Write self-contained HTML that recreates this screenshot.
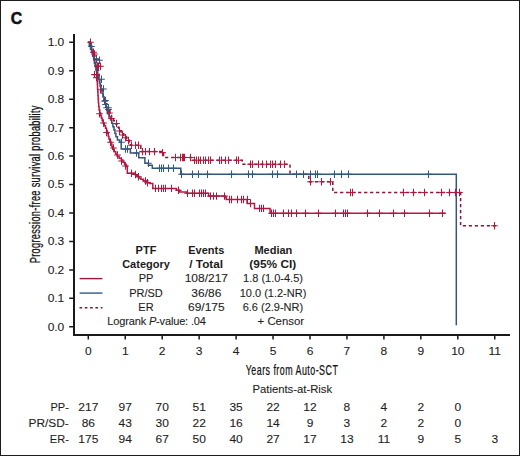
<!DOCTYPE html>
<html><head><meta charset="utf-8"><style>
html,body{margin:0;padding:0;background:#fff;}
.r{fill:#1e1e1e;stroke:#1e1e1e;stroke-width:0.1px;}
.b{fill:#1c1c1c;}
body{width:520px;height:456px;overflow:hidden;font-family:"Liberation Sans", sans-serif;}
svg{display:block;}
</style></head><body>
<svg width="520" height="456" viewBox="0 0 520 456">
<rect x="0" y="0" width="520" height="456" fill="#fff"/>
<rect x="0.5" y="0.5" width="519" height="455" fill="none" stroke="#1c1c1c" stroke-width="1"/>
<text x="10.7" y="24.3" font-family='"Liberation Sans", sans-serif' font-weight="bold" font-size="15.8" fill="#111" stroke="#111" stroke-width="0.5">C</text>
<path d="M74 34V336M73 335H510" stroke="#1a1a1a" stroke-width="2" fill="none"/>
<path d="M69.2 326.80H73M69.2 298.35H73M69.2 269.90H73M69.2 241.45H73M69.2 213.00H73M69.2 184.55H73M69.2 156.10H73M69.2 127.65H73M69.2 99.20H73M69.2 70.75H73M69.2 42.30H73M88.30 336V339.5M125.25 336V339.5M162.20 336V339.5M199.15 336V339.5M236.10 336V339.5M273.05 336V339.5M310.00 336V339.5M346.95 336V339.5M383.90 336V339.5M420.85 336V339.5M457.80 336V339.5M494.75 336V339.5" stroke="#1a1a1a" stroke-width="1.5" fill="none"/>
<text transform="translate(64.3,330.70) scale(1.09,1)" text-anchor="end" font-family='"Liberation Sans", sans-serif' font-size="11" class="r">0.0</text>
<text transform="translate(64.3,302.25) scale(1.09,1)" text-anchor="end" font-family='"Liberation Sans", sans-serif' font-size="11" class="r">0.1</text>
<text transform="translate(64.3,273.80) scale(1.09,1)" text-anchor="end" font-family='"Liberation Sans", sans-serif' font-size="11" class="r">0.2</text>
<text transform="translate(64.3,245.35) scale(1.09,1)" text-anchor="end" font-family='"Liberation Sans", sans-serif' font-size="11" class="r">0.3</text>
<text transform="translate(64.3,216.90) scale(1.09,1)" text-anchor="end" font-family='"Liberation Sans", sans-serif' font-size="11" class="r">0.4</text>
<text transform="translate(64.3,188.45) scale(1.09,1)" text-anchor="end" font-family='"Liberation Sans", sans-serif' font-size="11" class="r">0.5</text>
<text transform="translate(64.3,160.00) scale(1.09,1)" text-anchor="end" font-family='"Liberation Sans", sans-serif' font-size="11" class="r">0.6</text>
<text transform="translate(64.3,131.55) scale(1.09,1)" text-anchor="end" font-family='"Liberation Sans", sans-serif' font-size="11" class="r">0.7</text>
<text transform="translate(64.3,103.10) scale(1.09,1)" text-anchor="end" font-family='"Liberation Sans", sans-serif' font-size="11" class="r">0.8</text>
<text transform="translate(64.3,74.65) scale(1.09,1)" text-anchor="end" font-family='"Liberation Sans", sans-serif' font-size="11" class="r">0.9</text>
<text transform="translate(64.3,46.20) scale(1.09,1)" text-anchor="end" font-family='"Liberation Sans", sans-serif' font-size="11" class="r">1.0</text>
<text transform="translate(88.30,355) scale(1.09,1)" text-anchor="middle" font-family='"Liberation Sans", sans-serif' font-size="11" class="r">0</text>
<text transform="translate(125.25,355) scale(1.09,1)" text-anchor="middle" font-family='"Liberation Sans", sans-serif' font-size="11" class="r">1</text>
<text transform="translate(162.20,355) scale(1.09,1)" text-anchor="middle" font-family='"Liberation Sans", sans-serif' font-size="11" class="r">2</text>
<text transform="translate(199.15,355) scale(1.09,1)" text-anchor="middle" font-family='"Liberation Sans", sans-serif' font-size="11" class="r">3</text>
<text transform="translate(236.10,355) scale(1.09,1)" text-anchor="middle" font-family='"Liberation Sans", sans-serif' font-size="11" class="r">4</text>
<text transform="translate(273.05,355) scale(1.09,1)" text-anchor="middle" font-family='"Liberation Sans", sans-serif' font-size="11" class="r">5</text>
<text transform="translate(310.00,355) scale(1.09,1)" text-anchor="middle" font-family='"Liberation Sans", sans-serif' font-size="11" class="r">6</text>
<text transform="translate(346.95,355) scale(1.09,1)" text-anchor="middle" font-family='"Liberation Sans", sans-serif' font-size="11" class="r">7</text>
<text transform="translate(383.90,355) scale(1.09,1)" text-anchor="middle" font-family='"Liberation Sans", sans-serif' font-size="11" class="r">8</text>
<text transform="translate(420.85,355) scale(1.09,1)" text-anchor="middle" font-family='"Liberation Sans", sans-serif' font-size="11" class="r">9</text>
<text transform="translate(457.80,355) scale(1.09,1)" text-anchor="middle" font-family='"Liberation Sans", sans-serif' font-size="11" class="r">10</text>
<text transform="translate(494.75,355) scale(1.09,1)" text-anchor="middle" font-family='"Liberation Sans", sans-serif' font-size="11" class="r">11</text>
<text transform="translate(292,374.8) scale(0.634,1)" text-anchor="middle" font-family='"Liberation Sans", sans-serif' font-size="14" letter-spacing="0.75" fill="#111" stroke="#111" stroke-width="0.25">Years from Auto-SCT</text>
<text transform="translate(39.5,184.3) rotate(-90) scale(0.665,1)" text-anchor="middle" font-family='"Liberation Sans", sans-serif' font-size="13.8" letter-spacing="0.5" fill="#111" stroke="#111" stroke-width="0.25">Progression-free survival probability</text>
<text x="292.3" y="392.7" text-anchor="middle" font-family='"Liberation Sans", sans-serif' font-size="11.3" class="r">Patients-at-Risk</text>
<text transform="translate(68.8,411.0) scale(1.0,1)" text-anchor="end" font-family='"Liberation Sans", sans-serif' font-size="11" class="r">PP-</text>
<text transform="translate(88.30,411.0) scale(1.09,1)" text-anchor="middle" font-family='"Liberation Sans", sans-serif' font-size="11" class="r">217</text>
<text transform="translate(125.25,411.0) scale(1.09,1)" text-anchor="middle" font-family='"Liberation Sans", sans-serif' font-size="11" class="r">97</text>
<text transform="translate(162.20,411.0) scale(1.09,1)" text-anchor="middle" font-family='"Liberation Sans", sans-serif' font-size="11" class="r">70</text>
<text transform="translate(199.15,411.0) scale(1.09,1)" text-anchor="middle" font-family='"Liberation Sans", sans-serif' font-size="11" class="r">51</text>
<text transform="translate(236.10,411.0) scale(1.09,1)" text-anchor="middle" font-family='"Liberation Sans", sans-serif' font-size="11" class="r">35</text>
<text transform="translate(273.05,411.0) scale(1.09,1)" text-anchor="middle" font-family='"Liberation Sans", sans-serif' font-size="11" class="r">22</text>
<text transform="translate(310.00,411.0) scale(1.09,1)" text-anchor="middle" font-family='"Liberation Sans", sans-serif' font-size="11" class="r">12</text>
<text transform="translate(346.95,411.0) scale(1.09,1)" text-anchor="middle" font-family='"Liberation Sans", sans-serif' font-size="11" class="r">8</text>
<text transform="translate(383.90,411.0) scale(1.09,1)" text-anchor="middle" font-family='"Liberation Sans", sans-serif' font-size="11" class="r">4</text>
<text transform="translate(420.85,411.0) scale(1.09,1)" text-anchor="middle" font-family='"Liberation Sans", sans-serif' font-size="11" class="r">2</text>
<text transform="translate(457.80,411.0) scale(1.09,1)" text-anchor="middle" font-family='"Liberation Sans", sans-serif' font-size="11" class="r">0</text>
<text transform="translate(68.8,426.8) scale(1.08,1)" text-anchor="end" font-family='"Liberation Sans", sans-serif' font-size="11" class="r">PR/SD-</text>
<text transform="translate(88.30,426.8) scale(1.09,1)" text-anchor="middle" font-family='"Liberation Sans", sans-serif' font-size="11" class="r">86</text>
<text transform="translate(125.25,426.8) scale(1.09,1)" text-anchor="middle" font-family='"Liberation Sans", sans-serif' font-size="11" class="r">43</text>
<text transform="translate(162.20,426.8) scale(1.09,1)" text-anchor="middle" font-family='"Liberation Sans", sans-serif' font-size="11" class="r">30</text>
<text transform="translate(199.15,426.8) scale(1.09,1)" text-anchor="middle" font-family='"Liberation Sans", sans-serif' font-size="11" class="r">22</text>
<text transform="translate(236.10,426.8) scale(1.09,1)" text-anchor="middle" font-family='"Liberation Sans", sans-serif' font-size="11" class="r">16</text>
<text transform="translate(273.05,426.8) scale(1.09,1)" text-anchor="middle" font-family='"Liberation Sans", sans-serif' font-size="11" class="r">14</text>
<text transform="translate(310.00,426.8) scale(1.09,1)" text-anchor="middle" font-family='"Liberation Sans", sans-serif' font-size="11" class="r">9</text>
<text transform="translate(346.95,426.8) scale(1.09,1)" text-anchor="middle" font-family='"Liberation Sans", sans-serif' font-size="11" class="r">3</text>
<text transform="translate(383.90,426.8) scale(1.09,1)" text-anchor="middle" font-family='"Liberation Sans", sans-serif' font-size="11" class="r">2</text>
<text transform="translate(420.85,426.8) scale(1.09,1)" text-anchor="middle" font-family='"Liberation Sans", sans-serif' font-size="11" class="r">2</text>
<text transform="translate(457.80,426.8) scale(1.09,1)" text-anchor="middle" font-family='"Liberation Sans", sans-serif' font-size="11" class="r">0</text>
<text transform="translate(68.8,442.6) scale(1.0,1)" text-anchor="end" font-family='"Liberation Sans", sans-serif' font-size="11" class="r">ER-</text>
<text transform="translate(88.30,442.6) scale(1.09,1)" text-anchor="middle" font-family='"Liberation Sans", sans-serif' font-size="11" class="r">175</text>
<text transform="translate(125.25,442.6) scale(1.09,1)" text-anchor="middle" font-family='"Liberation Sans", sans-serif' font-size="11" class="r">94</text>
<text transform="translate(162.20,442.6) scale(1.09,1)" text-anchor="middle" font-family='"Liberation Sans", sans-serif' font-size="11" class="r">67</text>
<text transform="translate(199.15,442.6) scale(1.09,1)" text-anchor="middle" font-family='"Liberation Sans", sans-serif' font-size="11" class="r">50</text>
<text transform="translate(236.10,442.6) scale(1.09,1)" text-anchor="middle" font-family='"Liberation Sans", sans-serif' font-size="11" class="r">40</text>
<text transform="translate(273.05,442.6) scale(1.09,1)" text-anchor="middle" font-family='"Liberation Sans", sans-serif' font-size="11" class="r">27</text>
<text transform="translate(310.00,442.6) scale(1.09,1)" text-anchor="middle" font-family='"Liberation Sans", sans-serif' font-size="11" class="r">17</text>
<text transform="translate(346.95,442.6) scale(1.09,1)" text-anchor="middle" font-family='"Liberation Sans", sans-serif' font-size="11" class="r">13</text>
<text transform="translate(383.90,442.6) scale(1.09,1)" text-anchor="middle" font-family='"Liberation Sans", sans-serif' font-size="11" class="r">11</text>
<text transform="translate(420.85,442.6) scale(1.09,1)" text-anchor="middle" font-family='"Liberation Sans", sans-serif' font-size="11" class="r">9</text>
<text transform="translate(457.80,442.6) scale(1.09,1)" text-anchor="middle" font-family='"Liberation Sans", sans-serif' font-size="11" class="r">5</text>
<text transform="translate(494.75,442.6) scale(1.09,1)" text-anchor="middle" font-family='"Liberation Sans", sans-serif' font-size="11" class="r">3</text>
<text x="146" y="254.2" text-anchor="middle" font-family='"Liberation Sans", sans-serif' font-size="11" font-weight="bold" class="b">PTF</text>
<text x="146" y="267.7" text-anchor="middle" font-family='"Liberation Sans", sans-serif' font-size="11" font-weight="bold" class="b">Category</text>
<text x="206.3" y="254.2" text-anchor="middle" font-family='"Liberation Sans", sans-serif' font-size="11" font-weight="bold" class="b">Events</text>
<text x="206.2" y="267.7" text-anchor="middle" font-family='"Liberation Sans", sans-serif' font-size="11" font-weight="bold" class="b" transform="translate(206.2 0) scale(1.07 1) translate(-206.2 0)">/ Total</text>
<text x="273.4" y="254.2" text-anchor="middle" font-family='"Liberation Sans", sans-serif' font-size="11" font-weight="bold" class="b">Median</text>
<text x="272.8" y="267.7" text-anchor="middle" font-family='"Liberation Sans", sans-serif' font-size="11" font-weight="bold" class="b" transform="translate(272.8 0) scale(1.08 1) translate(-272.8 0)">(95% CI)</text>
<text x="146" y="282.2" text-anchor="middle" font-family='"Liberation Sans", sans-serif' font-size="11" class="r">PP</text>
<text x="146" y="296.7" text-anchor="middle" font-family='"Liberation Sans", sans-serif' font-size="11" class="r">PR/SD</text>
<text x="146" y="311.0" text-anchor="middle" font-family='"Liberation Sans", sans-serif' font-size="11" class="r">ER</text>
<text transform="translate(206.3,282.2) scale(1.09,1)" text-anchor="middle" font-family='"Liberation Sans", sans-serif' font-size="11" class="r">108/217</text>
<text transform="translate(206.3,296.7) scale(1.09,1)" text-anchor="middle" font-family='"Liberation Sans", sans-serif' font-size="11" class="r">36/86</text>
<text transform="translate(206.3,311.0) scale(1.09,1)" text-anchor="middle" font-family='"Liberation Sans", sans-serif' font-size="11" class="r">69/175</text>
<text x="273.0" y="282.2" text-anchor="middle" font-family='"Liberation Sans", sans-serif' font-size="11" class="r">1.8 (1.0-4.5)</text>
<text x="273.0" y="296.7" text-anchor="middle" font-family='"Liberation Sans", sans-serif' font-size="11" class="r">10.0 (1.2-NR)</text>
<text x="272.9" y="311.0" text-anchor="middle" font-family='"Liberation Sans", sans-serif' font-size="11" class="r">6.6 (2.9-NR)</text>
<text x="107.3" y="324.8" font-family='"Liberation Sans", sans-serif' font-size="11" class="r" textLength="98.6" lengthAdjust="spacing">Logrank <tspan font-style="italic">P</tspan>-value: .04</text>
<text transform="translate(304.1,324.8) scale(1.035,1)" text-anchor="end" font-family='"Liberation Sans", sans-serif' font-size="11" class="r">+ Censor</text>
<path d="M79.6 278.6H102.4" stroke="#941a3c" stroke-width="1.4"/>
<path d="M79.6 293.1H102.4" stroke="#3e6592" stroke-width="1.5"/>
<path d="M79.5 307.7H102.5" stroke="#7e1632" stroke-width="1.4" stroke-dasharray="2.6 2.7"/>
<path d="M88.30 42.30H89.95V45.70H91.59V49.09H93.19V52.51H94.52V56.04H95.84V59.58H96.55V63.28H97.17V67.00H97.79V70.72H98.46V74.43H99.15V78.14H99.85V81.85H100.54V85.56H101.31V89.25H102.23V92.92H103.14V96.58H104.09V100.23H105.49V103.73H106.89V107.24H108.34V110.72H109.95V114.14H111.55V117.55H113.51V120.77H115.60V123.91H117.28V127.28H118.86V130.71H121.12V133.72H123.66V136.49H126.49V138.99H129.08V141.70H130.50V145.20H140.80V151.60H163.50V157.50H192.80V160.20H242.30V164.30H290.00V174.30H308.80V181.80H332.80V192.50H460.60V225.80H498.50" stroke="#8a1434" stroke-width="1.5" fill="none" stroke-dasharray="3.2 2.8"/>
<path d="M88.30 42.30H89.60V45.72H90.91V49.13H92.12V52.57H92.90V56.14H93.68V59.71H94.46V63.29H95.24V66.86H96.02V70.43H96.80V74.00H96.98V77.60H97.16V81.21H97.34V84.81H97.52V88.41H97.73V92.02H97.95V95.62H98.18V99.22H98.40V102.82H98.65V106.42H99.10V110.00H99.76V112.70H100.51V115.38H101.31V118.04H102.19V120.68H103.26V123.24H104.37V125.80H105.53V128.32H106.60V130.89H107.50V133.52H108.28V136.18H108.93V138.89H109.83V141.51H110.90V144.08H111.89V146.68H112.77V149.31H114.20V151.67H115.79V153.96H117.26V156.31H119.12V158.31H121.33V159.98H122.93V162.26H124.61V164.47H126.40V166.60H127.30V173.20H134.80V174.50H136.00V175.80H137.40V176.70H139.00V178.00H140.90V179.30H143.50V181.00H147.00V182.80H150.00V183.50H152.80V188.40H176.40V190.20H179.70V192.00H186.50V193.30H208.70V196.10H225.00V197.60H226.20V199.50H247.10V203.50H254.50V208.40H270.10V213.30H445.50" stroke="#bb173f" stroke-width="1.5" fill="none"/>
<path d="M88.30 42.30H89.38V45.65H90.46V49.01H91.54V52.36H92.62V55.71H93.70V59.06H94.58V62.47H95.38V65.90H96.18V69.33H96.98V72.76H97.78V76.19H98.58V79.62H99.38V83.05H100.18V86.48H100.98V89.91H101.99V93.29H103.00V96.66H104.01V100.04H104.92V103.44H105.83V106.84H106.73V110.25H107.64V113.65H108.95V116.90H110.53V120.05H111.78V123.34H112.89V126.68H114.01V130.02H114.97V133.41H115.94V136.79H117.44V139.98H119.88V142.24H121.20V145.48H121.20V149.00H130.40V153.00H138.70V157.80H144.90V163.30H148.40V165.30H152.30V168.30H180.80V174.30H456.30V325.30H456.30" stroke="#33567e" stroke-width="1.5" fill="none"/>
<path d="M91.20 54.00H97.80M94.50 50.30V57.70M93.20 59.60H99.80M96.50 55.90V63.30M94.20 66.00H100.80M97.50 62.30V69.70M97.20 66.30H103.80M100.50 62.60V70.00M91.20 74.60H97.80M94.50 70.90V78.30M93.20 77.60H99.80M96.50 73.90V81.30M97.20 89.70H103.80M100.50 86.00V93.40M101.20 101.20H107.80M104.50 97.50V104.90M105.20 109.40H111.80M108.50 105.70V113.10M106.20 113.00H112.80M109.50 109.30V116.70M108.20 118.50H114.80M111.50 114.80V122.20M113.20 123.50H119.80M116.50 119.80V127.20M116.20 131.00H122.80M119.50 127.30V134.70M119.20 135.00H125.80M122.50 131.30V138.70M122.20 137.70H128.80M125.50 134.00V141.40M125.20 140.50H131.80M128.50 136.80V144.20M128.20 145.20H134.80M131.50 141.50V148.90M132.20 145.20H138.80M135.50 141.50V148.90M135.20 145.20H141.80M138.50 141.50V148.90M139.20 151.60H145.80M142.50 147.90V155.30M142.20 151.60H148.80M145.50 147.90V155.30M146.20 151.60H152.80M149.50 147.90V155.30M151.20 151.60H157.80M154.50 147.90V155.30M159.20 152.60H165.80M162.50 148.90V156.30M172.20 157.50H178.80M175.50 153.80V161.20M177.20 157.50H183.80M180.50 153.80V161.20M180.20 157.50H186.80M183.50 153.80V161.20M179.20 157.50H185.80M182.50 153.80V161.20M181.20 157.50H187.80M184.50 153.80V161.20M187.20 157.50H193.80M190.50 153.80V161.20M191.20 160.20H197.80M194.50 156.50V163.90M193.20 160.20H199.80M196.50 156.50V163.90M195.20 160.20H201.80M198.50 156.50V163.90M197.20 160.20H203.80M200.50 156.50V163.90M200.20 160.20H206.80M203.50 156.50V163.90M202.20 160.20H208.80M205.50 156.50V163.90M205.20 160.20H211.80M208.50 156.50V163.90M207.20 160.20H213.80M210.50 156.50V163.90M216.20 160.20H222.80M219.50 156.50V163.90M218.20 160.20H224.80M221.50 156.50V163.90M222.20 160.20H228.80M225.50 156.50V163.90M225.20 160.20H231.80M228.50 156.50V163.90M233.20 160.20H239.80M236.50 156.50V163.90M235.20 160.20H241.80M238.50 156.50V163.90M247.20 164.30H253.80M250.50 160.60V168.00M249.20 164.30H255.80M252.50 160.60V168.00M255.20 164.30H261.80M258.50 160.60V168.00M259.20 164.30H265.80M262.50 160.60V168.00M263.20 164.30H269.80M266.50 160.60V168.00M267.20 164.30H273.80M270.50 160.60V168.00M269.20 164.30H275.80M272.50 160.60V168.00M272.20 164.30H278.80M275.50 160.60V168.00M277.20 164.30H283.80M280.50 160.60V168.00M281.20 164.30H287.80M284.50 160.60V168.00M307.20 181.80H313.80M310.50 178.10V185.50M318.20 181.80H324.80M321.50 178.10V185.50M327.20 181.80H333.80M330.50 178.10V185.50M347.20 192.50H353.80M350.50 188.80V196.20M349.20 192.50H355.80M352.50 188.80V196.20M400.20 192.50H406.80M403.50 188.80V196.20M410.20 192.50H416.80M413.50 188.80V196.20M421.20 192.50H427.80M424.50 188.80V196.20M438.20 192.50H444.80M441.50 188.80V196.20M446.20 192.50H452.80M449.50 188.80V196.20M452.20 192.50H458.80M455.50 188.80V196.20M456.20 192.50H462.80M459.50 188.80V196.20M491.20 225.80H497.80M494.50 222.10V229.50" stroke="#b3183f" stroke-width="1.05" fill="none"/>
<path d="M87.20 42.30H93.80M90.50 38.60V46.00M90.20 52.20H96.80M93.50 48.50V55.90M95.20 66.30H101.80M98.50 62.60V70.00M93.20 74.60H99.80M96.50 70.90V78.30M96.20 113.70H102.80M99.50 110.00V117.40M100.20 123.00H106.80M103.50 119.30V126.70M103.20 132.50H109.80M106.50 128.80V136.20M107.20 142.20H113.80M110.50 138.50V145.90M110.20 148.00H116.80M113.50 144.30V151.70M114.20 155.00H120.80M117.50 151.30V158.70M118.20 161.00H124.80M121.50 157.30V164.70M122.20 166.00H128.80M125.50 162.30V169.70M128.20 173.20H134.80M131.50 169.50V176.90M132.20 174.50H138.80M135.50 170.80V178.20M135.20 176.70H141.80M138.50 173.00V180.40M142.20 181.00H148.80M145.50 177.30V184.70M144.20 182.80H150.80M147.50 179.10V186.50M152.20 188.40H158.80M155.50 184.70V192.10M155.20 188.40H161.80M158.50 184.70V192.10M158.20 188.40H164.80M161.50 184.70V192.10M160.20 188.40H166.80M163.50 184.70V192.10M162.20 188.40H168.80M165.50 184.70V192.10M168.20 188.40H174.80M171.50 184.70V192.10M175.20 190.20H181.80M178.50 186.50V193.90M184.20 193.30H190.80M187.50 189.60V197.00M189.20 193.30H195.80M192.50 189.60V197.00M191.20 193.30H197.80M194.50 189.60V197.00M196.20 193.30H202.80M199.50 189.60V197.00M198.20 193.30H204.80M201.50 189.60V197.00M200.20 193.30H206.80M203.50 189.60V197.00M202.20 193.30H208.80M205.50 189.60V197.00M207.20 196.10H213.80M210.50 192.40V199.80M210.20 196.10H216.80M213.50 192.40V199.80M213.20 196.10H219.80M216.50 192.40V199.80M221.20 196.10H227.80M224.50 192.40V199.80M226.20 199.50H232.80M229.50 195.80V203.20M228.20 199.50H234.80M231.50 195.80V203.20M234.20 199.50H240.80M237.50 195.80V203.20M238.20 199.50H244.80M241.50 195.80V203.20M240.20 199.50H246.80M243.50 195.80V203.20M244.20 199.50H250.80M247.50 195.80V203.20M247.20 203.50H253.80M250.50 199.80V207.20M256.20 208.40H262.80M259.50 204.70V212.10M258.20 208.40H264.80M261.50 204.70V212.10M260.20 208.40H266.80M263.50 204.70V212.10M268.20 213.30H274.80M271.50 209.60V217.00M270.20 213.30H276.80M273.50 209.60V217.00M272.20 213.30H278.80M275.50 209.60V217.00M280.20 213.30H286.80M283.50 209.60V217.00M285.20 213.30H291.80M288.50 209.60V217.00M288.20 213.30H294.80M291.50 209.60V217.00M293.20 213.30H299.80M296.50 209.60V217.00M302.20 213.30H308.80M305.50 209.60V217.00M315.20 213.30H321.80M318.50 209.60V217.00M332.20 213.30H338.80M335.50 209.60V217.00M340.20 213.30H346.80M343.50 209.60V217.00M342.20 213.30H348.80M345.50 209.60V217.00M344.20 213.30H350.80M347.50 209.60V217.00M364.20 213.30H370.80M367.50 209.60V217.00M376.20 213.30H382.80M379.50 209.60V217.00M390.20 213.30H396.80M393.50 209.60V217.00M401.20 213.30H407.80M404.50 209.60V217.00M426.20 213.30H432.80M429.50 209.60V217.00M439.20 213.30H445.80M442.50 209.60V217.00" stroke="#a51a42" stroke-width="1.05" fill="none"/>
<path d="M88.20 46.50H94.80M91.50 42.80V50.20M93.20 58.80H99.80M96.50 55.10V62.50M96.20 60.20H102.80M99.50 56.50V63.90M98.20 79.20H104.80M101.50 75.50V82.90M100.20 88.90H106.80M103.50 85.20V92.60M102.20 100.50H108.80M105.50 96.80V104.20M102.20 104.40H108.80M105.50 100.70V108.10M105.20 107.70H111.80M108.50 104.00V111.40M103.20 107.70H109.80M106.50 104.00V111.40M118.20 142.24H124.80M121.50 138.54V145.94M122.20 149.00H128.80M125.50 145.30V152.70M122.20 149.00H128.80M125.50 145.30V152.70M124.20 149.00H130.80M127.50 145.30V152.70M133.20 153.00H139.80M136.50 149.30V156.70M145.20 163.30H151.80M148.50 159.60V167.00M156.20 168.30H162.80M159.50 164.60V172.00M158.20 168.30H164.80M161.50 164.60V172.00M160.20 168.30H166.80M163.50 164.60V172.00M165.20 168.30H171.80M168.50 164.60V172.00M170.20 168.30H176.80M173.50 164.60V172.00M178.20 174.30H184.80M181.50 170.60V178.00M189.20 174.30H195.80M192.50 170.60V178.00M195.20 174.30H201.80M198.50 170.60V178.00M204.20 174.30H210.80M207.50 170.60V178.00M228.20 174.30H234.80M231.50 170.60V178.00M245.20 174.30H251.80M248.50 170.60V178.00M249.20 174.30H255.80M252.50 170.60V178.00M269.20 174.30H275.80M272.50 170.60V178.00M274.20 174.30H280.80M277.50 170.60V178.00M293.20 174.30H299.80M296.50 170.60V178.00M300.20 174.30H306.80M303.50 170.60V178.00M307.20 174.30H313.80M310.50 170.60V178.00M312.20 174.30H318.80M315.50 170.60V178.00M314.20 174.30H320.80M317.50 170.60V178.00M331.20 174.30H337.80M334.50 170.60V178.00M338.20 174.30H344.80M341.50 170.60V178.00M345.20 174.30H351.80M348.50 170.60V178.00M425.20 174.30H431.80M428.50 170.60V178.00" stroke="#33567e" stroke-width="1.05" fill="none"/>
</svg>
</body></html>
